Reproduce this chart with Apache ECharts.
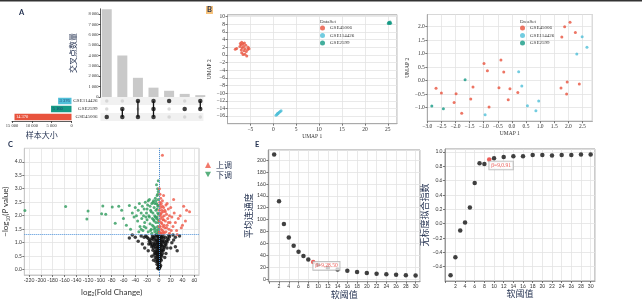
<!DOCTYPE html>
<html>
<head>
<meta charset="utf-8">
<script src="https://cdn.jsdelivr.net/npm/echarts@6/dist/echarts.min.js"></script>
<style>
html, body { margin: 0; padding: 0; background: #fff; }
#chart { width: 642px; height: 300px; }
</style>
</head>
<body>
<div id="chart"></div>
<script>
// ---- A: upset plot ----
var upsetCounts = [8450, 4000, 1850, 900, 600, 300, 180];
var upsetCombos = [[0], [0, 1], [0, 2], [0, 1, 2], [2], [1], [1, 2]];
var setNames = ['GSE45006', 'GSE2599', 'GSE114426'];
var setSizes = [14370, 5160, 3376];
var setColors = ['#e8533d', '#149a85', '#4fbfd8'];

// ---- B: UMAP ----
var umapL45006 = [[-8.3,1.5],[-8.0,1.7],[-7.2,3.0],[-6.9,3.3],[-6.6,2.9],[-6.3,3.1],[-7.0,2.6],[-6.5,2.2],[-6.0,2.5],[-7.3,2.2],[-6.8,1.8],[-6.2,1.6],[-5.6,1.4],[-5.3,1.6],[-6.4,1.1],[-5.9,0.9],[-6.9,0.6],[-6.2,0.2],[-5.8,-0.3],[-6.6,0.1],[-7.0,1.3],[-5.5,2.0]];
var umapL114426 = [[0.6,-15.8],[0.8,-15.6],[0.9,-15.4],[1.0,-15.3],[1.1,-15.2],[1.3,-15.0],[1.5,-14.8],[1.7,-14.6]];
var umapL2599 = [[25.1,8.2],[25.3,8.4],[25.5,8.6],[25.2,8.5],[25.6,8.3],[25.4,8.2]];
var umapR45006 = [[2.06,2.16],[1.87,2.0],[2.25,1.78],[1.77,1.62],[-0.99,0.64],[-0.39,0.77],[-0.87,0.37],[-0.29,0.32],[-2.69,-0.28],[-2.5,-0.46],[-1.98,-0.48],[-1.38,-0.23],[-0.46,-0.26],[-0.07,-0.3],[0.21,-0.44],[-0.13,-0.71],[-1.46,-0.68],[-2.05,-0.81],[-0.81,-0.97],[-1.78,-1.21],[1.96,-0.05],[1.74,-0.27],[1.94,-0.49],[2.39,-0.12]];
var umapR114426 = [[0.24,0.33],[0.35,-0.2],[0.95,-0.75],[0.55,-0.93],[0.85,-1.11],[-0.95,-1.26],[2.49,1.63],[2.66,1.24],[2.3,0.99]];
var umapR2599 = [[-1.66,0.03],[-2.84,-0.94],[-2.43,-1.04]];

// ---- C: volcano ----
var volUp = [[6,4.24],[8,2.75],[25,2.6],[42,2.35],[47,2.2],[52,2.15],[40,1.65],[31,1.3],[36,2.0],[45,1.8],
  [1,1.4],[1,1.8],[1,2.2],[1.5,2.5],[2,1.6],[2,2.0],[2,2.4],[3,1.35],[3,1.9],[3,2.3],[4,1.5],[4,2.1],[4,2.45],
  [5,1.7],[5,2.2],[6,1.45],[6,1.95],[6,2.35],[7,1.6],[7,2.15],[8,1.4],[8,1.85],[8,2.3],[9,2.0],[10,1.55],[10,2.2],
  [11,1.8],[12,1.4],[12,2.4],[13,2.05],[14,1.65],[15,1.9],[16,2.25],[17,1.5],[18,2.0],[19,1.75],[20,2.3],[21,1.45],
  [22,1.95],[24,1.6],[26,2.1],[28,1.75],[30,1.45],[33,1.9],[38,1.55],[2,2.8],[1,3.0],[3,2.65],[5,1.35],[9,1.35],
  [14,2.45],[18,1.35],[1,1.6],[2,1.35],[3,2.05],[4,1.75],[6,2.55],[7,1.85],[9,1.65],[11,2.15],[13,1.55],[16,1.75]];
var volDown = [[-227,2.19],[-158,2.34],[-120,2.17],[-122,1.88],[-95,2.36],[-97,2.07],[-90,2.05],[-79,2.32],[-74,1.72],
  [-68,2.35],[-63,2.2],[-50,2.38],[-55,1.65],[-45,2.1],[-42,1.95],[-60,1.9],[-48,1.5],
  [-40,2.3],[-38,2.0],[-36,1.8],[-35,2.2],[-33,2.45],[-32,1.6],[-30,2.1],[-29,1.9],[-28,2.35],[-27,1.45],[-26,2.0],
  [-25,2.25],[-24,1.75],[-23,2.5],[-22,1.55],[-21,2.1],[-20,1.85],[-19,2.4],[-18,1.4],[-17,2.0],[-16,2.6],[-15,1.7],
  [-14,2.2],[-13,1.5],[-12,2.45],[-11,1.9],[-10,2.1],[-9,1.6],[-9,2.55],[-8,1.8],[-8,2.3],[-7,1.4],[-7,2.0],[-6,2.65],
  [-6,1.55],[-5,2.2],[-5,1.75],[-4,2.45],[-4,1.45],[-3,1.95],[-3,2.75],[-3,1.35],[-2,2.1],[-2,1.6],[-2,3.0],[-1.5,2.35],
  [-1.5,1.85],[-1,2.6],[-1,1.5],[-1,3.3],[-1,2.9],[-0.5,2.05],[-0.5,1.4],[-12,1.35],[-16,1.95],[-20,2.25],[-25,1.6],
  [-14,1.45],[-18,2.55],[-10,2.5],[-6,1.95],[-11,1.65],[-4,1.9],[-7,2.45],[-3,2.25],[-13,2.15],[-22,1.95],[-30,1.5],
  [-9,1.85],[-5,2.55],[-2,2.4],[-1,1.75],[-8,1.5],[-15,2.35],[-34,1.4],[-4,3.15],[-2,2.8]];
var volNot = [[0,0.02],[0.5,0.05],[-0.5,0.08],[1,0.12],[-1,0.15],[0,0.2],[1.5,0.25],[-1.5,0.28],[0.5,0.32],[-2,0.35],
  [2,0.38],[-0.5,0.42],[1,0.45],[-1,0.5],[2.5,0.52],[-2.5,0.55],[0,0.58],[1.5,0.62],[-1.5,0.65],[3,0.68],[-3,0.7],
  [0.5,0.73],[-0.5,0.77],[2,0.8],[-2,0.82],[1,0.86],[-1,0.88],[3.5,0.9],[-3.5,0.93],[0,0.95],[2.5,0.98],[-2.5,1.0],
  [1,1.03],[-1,1.06],[4,1.08],[-4,1.1],[0.5,1.13],[-0.5,1.16],[2,1.19],[-2,1.22],[3,1.25],[-3,1.27],
  [-5,0.3],[4,0.35],[-6,0.45],[5,0.5],[-8,0.55],[6,0.6],[-7,0.65],[7,0.7],[-10,0.72],[8,0.75],[-9,0.8],[9,0.82],
  [-12,0.85],[10,0.88],[-11,0.9],[12,0.92],[-14,0.95],[11,0.97],[-13,1.0],[14,1.02],[-16,1.05],[13,1.07],[-15,1.1],
  [16,1.12],[-18,1.15],[15,1.17],[-20,1.2],[18,1.22],[-22,1.25],[17,1.27],[-6,0.85],[5,0.9],[-8,1.0],[6,1.05],
  [-10,1.12],[8,1.15],[-7,1.2],[7,1.25],[-5,1.28],[4,0.75],[-4,0.6],[3,0.4],[-3,0.2],[2,0.1],[-2,0.05],
  [-50,1.17],[-35,1.05],[-28,0.95],[-25,1.2],[-30,1.25],[-40,1.2],[31,0.7],[28,0.85],[25,1.1],[22,1.0],[20,0.8],
  [-24,0.8],[-18,0.7],[12,0.6],[10,0.45],[-12,0.5],[-9,0.35],[35,1.25],[24,1.28],[-45,1.28],[28,1.2],
  [-1,0.3],[1,0.6],[-2,0.95],[2,1.1],[-4,0.4],[3,0.15],[-6,1.1],[5,1.2],[-9,1.2],[9,1.05],[-11,1.25],[11,1.2],
  [-3,0.5],[4,0.55],[-5,0.7],[6,0.85],[-7,0.95],[0,0.4],[0,0.8],[0,1.2],[-1,1.25],[1,0.95],[-12,1.15],[-17,0.95],[14,0.8],
  [-1,0.65],[1,0.3],[-2,0.6],[2,0.9],[-3,1.05],[3,0.95],[-4,0.8],[4,1.2],[-6,0.6],[5,0.7],[-8,0.9],[7,1.0]];

// ---- E: soft threshold ----
var softPower = [1, 2, 3, 4, 5, 6, 7, 8, 9, 10, 12, 14, 16, 18, 20, 22, 24, 26, 28, 30];
var meanConn = [209.6, 131, 92.4, 70, 56, 46, 38.6, 33, 28.5, 24, 19, 16, 13.8, 11.8, 10.2, 9, 8, 7.2, 6.5, 6];
var scaleFit = [-0.72, -0.47, -0.095, 0.015, 0.225, 0.565, 0.84, 0.83, 0.895, 0.91, 0.93, 0.94, 0.94, 0.955, 0.955, 0.95, 0.955, 0.955, 0.965, 0.965];
var pickIndex = 8;
var pickLabelConn = 'β=9,28.50';
var pickLabelFit = 'β=9,0.91';

var serif = 'Liberation Serif';
var sans = 'Lato';
var cjk = 'Noto Sans CJK SC';
var navy = '#1f2d4d';

function spaced(v) { return String(v).replace(/\B(?=(\d{3})+(?!\d))/g, ' '); }
function minus(s) { return String(s).replace('-', '−'); }

var chart = echarts.init(document.getElementById('chart'));

function frameGrid(left, top, width, height, border) {
    return { left: left, top: top, width: width, height: height, outerBoundsMode: 'none', containLabel: false,
        show: !!border, borderColor: border || '#ccc', borderWidth: 1, backgroundColor: 'transparent' };
}

function plotAxis(gridIndex, o) {
    return Object.assign({
        gridIndex: gridIndex, type: 'value',
        axisLine: { show: true, onZero: false, lineStyle: { color: o.lineColor || '#aaa', width: 1 } },
        axisTick: { show: true, length: 2, lineStyle: { color: '#555', width: 0.8 } },
        axisLabel: { fontSize: o.fontSize || 5.5, fontFamily: o.font || serif, color: '#333', margin: 2.5,
            showMinLabel: o.hideMin ? false : null, showMaxLabel: false, formatter: o.fmt },
        splitLine: { show: true, lineStyle: { color: '#e3e3e3', width: 0.8 } },
        nameLocation: 'middle',
        nameTextStyle: { fontFamily: o.nameFont || serif, fontSize: o.nameSize || 5.5, color: o.nameColor || '#333' }
    }, o.extra);
}

function dataSetLegend(left) {
    return { orient: 'vertical', left: left, top: 25.5, padding: 0, itemWidth: 5, itemHeight: 5, itemGap: 2.5,
        icon: 'circle', selectedMode: false, backgroundColor: 'transparent', borderWidth: 0,
        data: ['GSE45006', 'GSE114426', 'GSE2599'],
        textStyle: { fontFamily: serif, fontSize: 5, color: '#333' } };
}

// upset matrix dots
var dotsOn = [], dotsOff = [];
upsetCombos.forEach(function (c, i) {
    for (var r = 0; r < 3; r++) {
        if (c.indexOf(r) >= 0) dotsOn.push([i + 1, r]); else dotsOff.push([i + 1, r]);
    }
});
var comboLines = [];
upsetCombos.forEach(function (c, i) {
    if (c.length > 1) {
        comboLines.push({
            type: 'line', xAxisIndex: 1, yAxisIndex: 1, symbol: 'none', silent: true,
            lineStyle: { color: '#111', width: 1.3 },
            data: [[i + 1, Math.min.apply(null, c)], [i + 1, Math.max.apply(null, c)]]
        });
    }
});

function pickData(xs, ys, label, pos) {
    return xs.map(function (x, i) {
        if (i !== pickIndex) return [x, ys[i]];
        return {
            value: [x, ys[i]], itemStyle: { color: '#e8352e' },
            label: { show: true, formatter: label, position: pos, color: '#e8352e', fontSize: 5.5, fontFamily: serif,
                backgroundColor: 'rgba(255,255,255,0.9)', borderColor: '#aaa', borderWidth: 0.8, padding: [1, 2] }
        };
    });
}

var option = {
    animation: false,
    grid: [
        frameGrid(100.5, 8.8, 102.9, 88.2),
        frameGrid(100.5, 97, 102.9, 24),
        frameGrid(12, 97, 59.5, 24),
        frameGrid(227.5, 14.8, 169.5, 108.9, '#aaa'),
        frameGrid(427.3, 14.5, 165, 106.7, '#aaa'),
        frameGrid(24.3, 148.3, 174.7, 126.7, '#c8c8c8'),
        frameGrid(268.3, 150, 151.7, 131.7, '#999'),
        frameGrid(445, 149, 150, 132, '#999')
    ],
    xAxis: [
        { gridIndex: 0, type: 'value', min: 0.6, max: 7.2, show: false },
        { gridIndex: 1, type: 'value', min: 0.6, max: 7.2, show: false },
        { gridIndex: 2, type: 'value', min: 0, max: 15000, interval: 5000, inverse: true,
          axisLine: { show: true, onZero: false, lineStyle: { color: '#333', width: 0.8 } },
          axisTick: { show: true, length: 2, lineStyle: { color: '#333', width: 0.8 } },
          axisLabel: { fontSize: 4.5, fontFamily: serif, color: '#333', margin: 2, formatter: spaced },
          splitLine: { show: false },
          name: '样本大小', nameLocation: 'middle', nameGap: 10,
          nameTextStyle: { fontFamily: cjk, fontSize: 8, color: navy } },
        plotAxis(3, { hideMin: true, fmt: minus, extra: { min: -10, max: 27, interval: 5, name: 'UMAP 1', nameGap: 7 } }),
        plotAxis(4, { fmt: function (v) { return minus(v.toFixed(1)); },
            extra: { min: -3, max: 2.85, interval: 0.5, name: 'UMAP 1', nameGap: 7 } }),
        plotAxis(5, { hideMin: true, font: sans, fontSize: 5, lineColor: '#c8c8c8',
            extra: { min: -228, max: 68, splitNumber: 15, name: '{n|log}{s|2}{n|(Fold Change)}', nameGap: 12,
                nameTextStyle: { rich: { n: { fontFamily: sans, fontSize: 8, color: '#333' }, s: { fontFamily: sans, fontSize: 5, color: '#333', verticalAlign: 'bottom', padding: [5, 0, 0, 0] } } } } }),
        plotAxis(6, { hideMin: true, font: sans, fontSize: 5, lineColor: '#999',
            fmt: function (v) { return v === 0 ? '' : v; }, nameFont: cjk, nameSize: 9, nameColor: navy,
            extra: { min: -0.2, max: 30.9, splitNumber: 15, name: '软阈值', nameGap: 6 } }),
        plotAxis(7, { hideMin: true, font: sans, fontSize: 5, lineColor: '#999',
            fmt: function (v) { return v === 0 ? '' : v; }, nameFont: cjk, nameSize: 9, nameColor: navy,
            extra: { min: -0.15, max: 30.9, splitNumber: 15, name: '软阈值', nameGap: 8 } })
    ],
    yAxis: [
        { gridIndex: 0, type: 'value', min: 0, max: 8500, interval: 1000,
          axisLine: { show: true, lineStyle: { color: '#333', width: 0.8 } },
          axisTick: { show: true, length: 2, lineStyle: { color: '#333', width: 0.8 } },
          axisLabel: { fontSize: 4.5, fontFamily: serif, color: '#333', margin: 2, showMaxLabel: false, formatter: spaced },
          splitLine: { show: false },
          name: '交叉点数量', nameLocation: 'middle', nameGap: 24,
          nameTextStyle: { fontFamily: cjk, fontSize: 8, color: navy } },
        { gridIndex: 1, type: 'category', data: setNames,
          axisLine: { show: false }, axisTick: { show: false },
          axisLabel: { fontSize: 5, fontFamily: serif, color: '#333', margin: 3 },
          splitArea: { show: true, areaStyle: { color: ['#f1f1f1', '#ffffff'] } } },
        { gridIndex: 2, type: 'category', data: setNames, show: false },
        plotAxis(3, { hideMin: true, fmt: minus, extra: { min: -18, max: 10.5, interval: 2, name: 'UMAP 2', nameGap: 13 } }),
        plotAxis(4, { hideMin: true, fmt: function (v) { return minus(v.toFixed(1)); },
            extra: { min: -1.5, max: 2.45, interval: 0.5, name: 'UMAP 2', nameGap: 14 } }),
        plotAxis(5, { hideMin: true, font: sans, fontSize: 5, lineColor: '#c8c8c8', fmt: function (v) { return v.toFixed(1); },
            extra: { min: -0.2, max: 4.5, splitNumber: 9, name: '{n|−log}{s|10}{n|(}{i|P}{n| value)}', nameGap: 12,
                nameTextStyle: { rich: { n: { fontFamily: sans, fontSize: 8, color: '#333' }, i: { fontFamily: sans, fontSize: 8, fontStyle: 'italic', color: '#333' }, s: { fontFamily: sans, fontSize: 5, color: '#333', verticalAlign: 'bottom', padding: [5, 0, 0, 0] } } } } }),
        plotAxis(6, { hideMin: true, font: sans, fontSize: 5, lineColor: '#999', nameFont: cjk, nameSize: 9, nameColor: navy,
            extra: { min: -4.5, max: 217, splitNumber: 11, name: '平均连通度', nameGap: 15 } }),
        plotAxis(7, { hideMin: true, font: sans, fontSize: 5, lineColor: '#999', nameFont: cjk, nameSize: 9, nameColor: navy,
            fmt: function (v) { return minus(v.toFixed(1)); },
            extra: { min: -0.8, max: 1.04, splitNumber: 9, name: '无标度拟合指数', nameGap: 12 } })
    ],
    legend: [
        dataSetLegend(320),
        dataSetLegend(520),
        { orient: 'vertical', left: 205, top: 161, padding: 0, itemWidth: 6, itemHeight: 6, itemGap: 1.5,
          selectedMode: false, backgroundColor: 'transparent', borderWidth: 0,
          data: [{ name: '上调', icon: 'triangle' }, { name: '下调', icon: 'path://M0,0L10,0L5,9Z' }],
          textStyle: { fontFamily: cjk, fontSize: 8, color: navy } }
    ],
    graphic: [
        { type: 'rect', shape: { x: 0, y: 0, width: 642, height: 1.5 }, style: { fill: '#333' }, silent: true },
        { type: 'text', left: 19, top: 9, style: { text: 'A', fontSize: 7.5, fontWeight: 'bold', fontFamily: sans, fill: navy } },
        { type: 'text', left: 206, top: 6, style: { text: 'B', fontSize: 7.5, fontWeight: 'bold', fontFamily: sans, fill: navy, backgroundColor: '#f7c27a', padding: [0, 1] } },
        { type: 'text', left: 8, top: 141, style: { text: 'C', fontSize: 7.5, fontWeight: 'bold', fontFamily: sans, fill: navy } },
        { type: 'text', left: 255, top: 141, style: { text: 'E', fontSize: 7.5, fontWeight: 'bold', fontFamily: sans, fill: navy } },
        { type: 'text', left: 320, top: 19, style: { text: 'DataSet', fontSize: 5, fontFamily: serif, fill: '#333' } },
        { type: 'text', left: 520, top: 19, style: { text: 'DataSet', fontSize: 5, fontFamily: serif, fill: '#333' } }
    ],
    series: [
        { type: 'bar', xAxisIndex: 0, yAxisIndex: 0, barWidth: 10, clip: true, silent: true,
          itemStyle: { color: '#c9c9c9' },
          data: upsetCounts.map(function (v, i) { return [i + 1, v]; }) },
        { type: 'scatter', xAxisIndex: 1, yAxisIndex: 1, symbolSize: 3.5, clip: true, silent: true,
          itemStyle: { color: '#cfcfcf' }, data: dotsOff },
        { type: 'bar', xAxisIndex: 2, yAxisIndex: 2, barWidth: 6.5, silent: true,
          data: setSizes.map(function (v, i) {
              return { value: v, itemStyle: { color: setColors[i] },
                  label: { show: true, position: 'insideLeft', formatter: spaced(v), fontSize: 4.5, fontFamily: serif,
                      color: i === 0 ? '#fff' : '#1d3c6e', distance: 1.5 } };
          }) }
    ].concat(comboLines).concat([
        { type: 'scatter', xAxisIndex: 1, yAxisIndex: 1, symbolSize: 4.5, clip: true, silent: true,
          itemStyle: { color: '#111' }, data: dotsOn },
        { name: 'GSE45006', type: 'scatter', xAxisIndex: 3, yAxisIndex: 3, symbolSize: 3, itemStyle: { color: setColors[0] }, data: umapL45006 },
        { name: 'GSE114426', type: 'scatter', xAxisIndex: 3, yAxisIndex: 3, symbolSize: 3, itemStyle: { color: setColors[2] }, data: umapL114426 },
        { name: 'GSE2599', type: 'scatter', xAxisIndex: 3, yAxisIndex: 3, symbolSize: 3, itemStyle: { color: setColors[1] }, data: umapL2599 },
        { name: 'GSE45006', type: 'scatter', xAxisIndex: 4, yAxisIndex: 4, symbolSize: 3, itemStyle: { color: setColors[0] }, data: umapR45006 },
        { name: 'GSE114426', type: 'scatter', xAxisIndex: 4, yAxisIndex: 4, symbolSize: 3, itemStyle: { color: setColors[2] }, data: umapR114426 },
        { name: 'GSE2599', type: 'scatter', xAxisIndex: 4, yAxisIndex: 4, symbolSize: 3, itemStyle: { color: setColors[1] }, data: umapR2599 },
        { name: '不显著', type: 'scatter', xAxisIndex: 5, yAxisIndex: 5, symbolSize: 3.5, itemStyle: { color: '#111' }, data: volNot,
          markLine: { silent: true, symbol: 'none', label: { show: false },
              lineStyle: { type: 'dotted', color: '#4a90d9', width: 1 }, data: [{ xAxis: 0 }, { yAxis: 1.3 }] } },
        { name: '下调', type: 'scatter', xAxisIndex: 5, yAxisIndex: 5, symbolSize: 3, itemStyle: { color: '#2e9b5c' }, data: volDown },
        { name: '上调', type: 'scatter', xAxisIndex: 5, yAxisIndex: 5, symbolSize: 3, itemStyle: { color: '#ef5846' }, data: volUp },
        { type: 'scatter', xAxisIndex: 6, yAxisIndex: 6, symbolSize: 4.5, itemStyle: { color: '#111' },
          data: pickData(softPower, meanConn, pickLabelConn, [2.3, 2]) },
        { type: 'scatter', xAxisIndex: 7, yAxisIndex: 7, symbolSize: 4.5, itemStyle: { color: '#111' },
          data: pickData(softPower, scaleFit, pickLabelFit, [2.3, 4.3]) }
    ])
};
chart.setOption(option);
</script>
</body>
</html>
